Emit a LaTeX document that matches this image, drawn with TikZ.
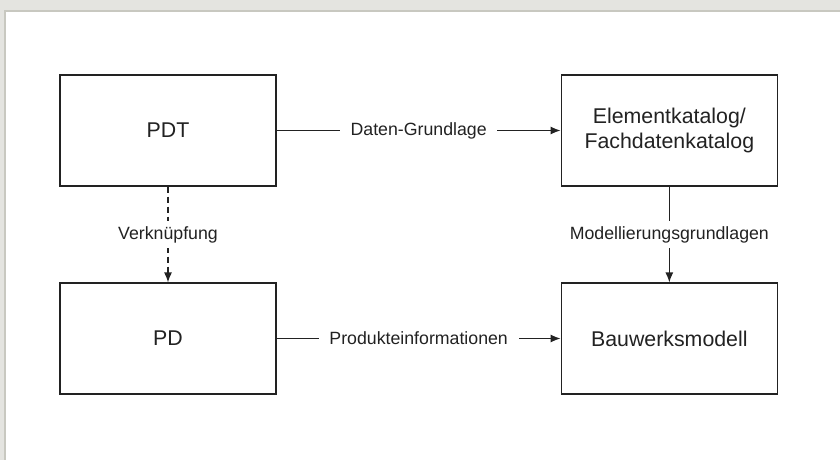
\documentclass[tikz,border=0pt]{standalone}
\usepackage{fontspec}
\setmainfont{Liberation Sans}
\usetikzlibrary{shapes,arrows,arrows.meta}
\definecolor{bgframe}{HTML}{E4E4E0}
\definecolor{frameline}{HTML}{C8C8C0}
\definecolor{ink}{HTML}{222222}

\begin{document}
\begin{tikzpicture}[auto, node distance=376pt, >=latex', x=0.75pt, y=-0.75pt]
    \tikzstyle{block} = [rectangle, draw=ink, line width=1.1pt, text=ink, fill=white,
        text width=155pt, text centered, minimum width=162pt, minimum height=83pt,
        font=\fontsize{16}{19.4}\selectfont]
    \tikzstyle{line} = [draw=ink, line width=1pt, -{Latex[length=7.5pt,width=6pt]}]
    \tikzstyle{tag} = [fill=white, text=ink, anchor=center, inner xsep=8pt, inner ysep=4pt,
        font=\fontsize{13.3}{16}\selectfont]

    \useasboundingbox (0,0) rectangle (840,460);
    \fill [bgframe] (0,0) rectangle (840,460);
    \fill [white] (5,11) rectangle (840,460);
    \draw [frameline, line width=1.2pt] (5,460) -- (5,11) -- (840,11);

    \node [block] (pdt) at (168,130.5) {PDT};
    \node [block, right of=pdt] (katalog) {Elementkatalog/\\Fachdatenkatalog};
    \node [block, below of=pdt, node distance=156pt] (pd) {PD};
    \node [block, right of=pd] (modell) {Bauwerksmodell};

    \path [line] (pdt) -- node[tag, midway] {Daten-Grundlage} (katalog);
    \path [line, dash pattern=on 4.5pt off 3pt] (pdt) -- node[tag, midway] {Verknüpfung} (pd);
    \path [line] (katalog) -- node[tag, midway] {Modellierungsgrundlagen} (modell);
    \path [line] (pd) -- node[tag, midway] {Produkteinformationen} (modell);
\end{tikzpicture}
\end{document}
